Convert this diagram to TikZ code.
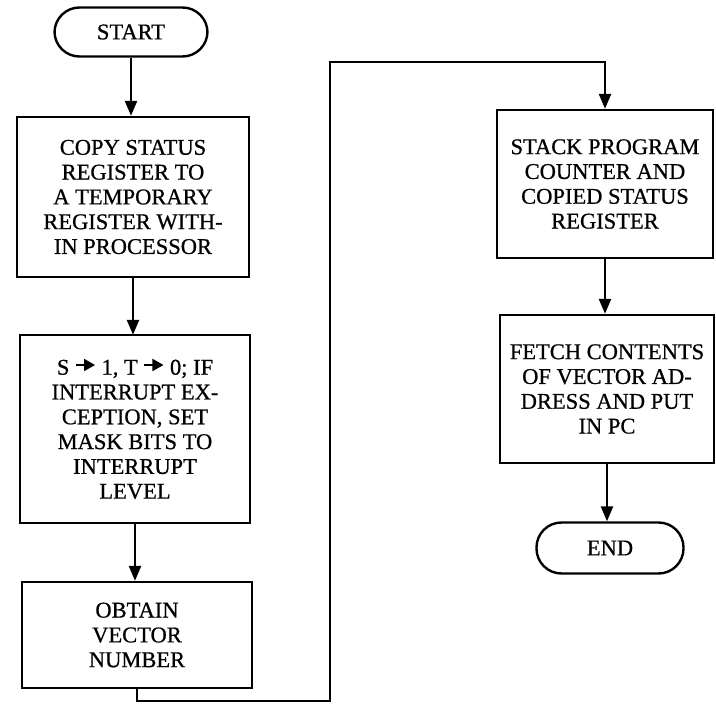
\documentclass[tikz,border=0pt]{standalone}
\usepackage{fontspec}
\setmainfont{Liberation Serif}[BoldFont=Liberation Serif,BoldFeatures={FakeBold=0.7}]
\usepackage{tikz}
\usetikzlibrary{arrows.meta}

\newcommand{\setto}{\tikz[baseline=-0.1em]\draw[line width=1.8pt,-{Triangle[length=11pt,width=12pt]}] (0,0.33em) -- (0.85em,0.33em);}

\begin{document}
\begin{tikzpicture}[x=1pt,y=-1pt,line width=2.4pt,
  box/.style={draw,align=center,inner sep=2pt,font=\fontsize{22.5}{24.8}\selectfont\bfseries},
  term/.style={box,rounded corners=25pt},
  flow/.style={-{Triangle[length=15pt,width=12pt]}}]
\useasboundingbox (0,0) rectangle (716,712);
\node [term,minimum width=153pt,minimum height=49pt] (s) at (131,32) {START};
\node [box,minimum width=232pt,minimum height=160pt] (a) at (133,197)
  {COPY STATUS\\REGISTER TO\\A TEMPORARY\\REGISTER WITH-\\IN PROCESSOR};
\node [box,minimum width=230pt,minimum height=188pt] (b) at (135,429)
  {S \setto\ 1, T \setto\ 0; IF\\INTERRUPT EX-\\CEPTION, SET\\MASK BITS TO\\INTERRUPT\\LEVEL};
\node [box,minimum width=230pt,minimum height=106pt] (c) at (137,635)
  {OBTAIN\\VECTOR\\NUMBER};
\node [box,minimum width=216pt,minimum height=148pt] (d) at (605,184)
  {STACK PROGRAM\\COUNTER AND\\COPIED STATUS\\REGISTER};
\node [box,minimum width=214pt,minimum height=148pt] (e) at (607,389)
  {FETCH CONTENTS\\OF VECTOR AD-\\DRESS AND PUT\\IN PC};
\node [term,minimum width=147pt,minimum height=51pt] (t) at (610,548) {END};
\draw [flow] (s.south) -- (s.south |- a.north);
\draw [flow] (a.south) -- (a.south |- b.north);
\draw [flow] (b.south) -- (b.south |- c.north);
\draw [flow] (c.south) -- ++(0,12) -| (330,62) -| (d.north);
\draw [flow] (d.south) -- (d.south |- e.north);
\draw [flow] (e.south) -- (e.south |- t.north);
\end{tikzpicture}
\end{document}
